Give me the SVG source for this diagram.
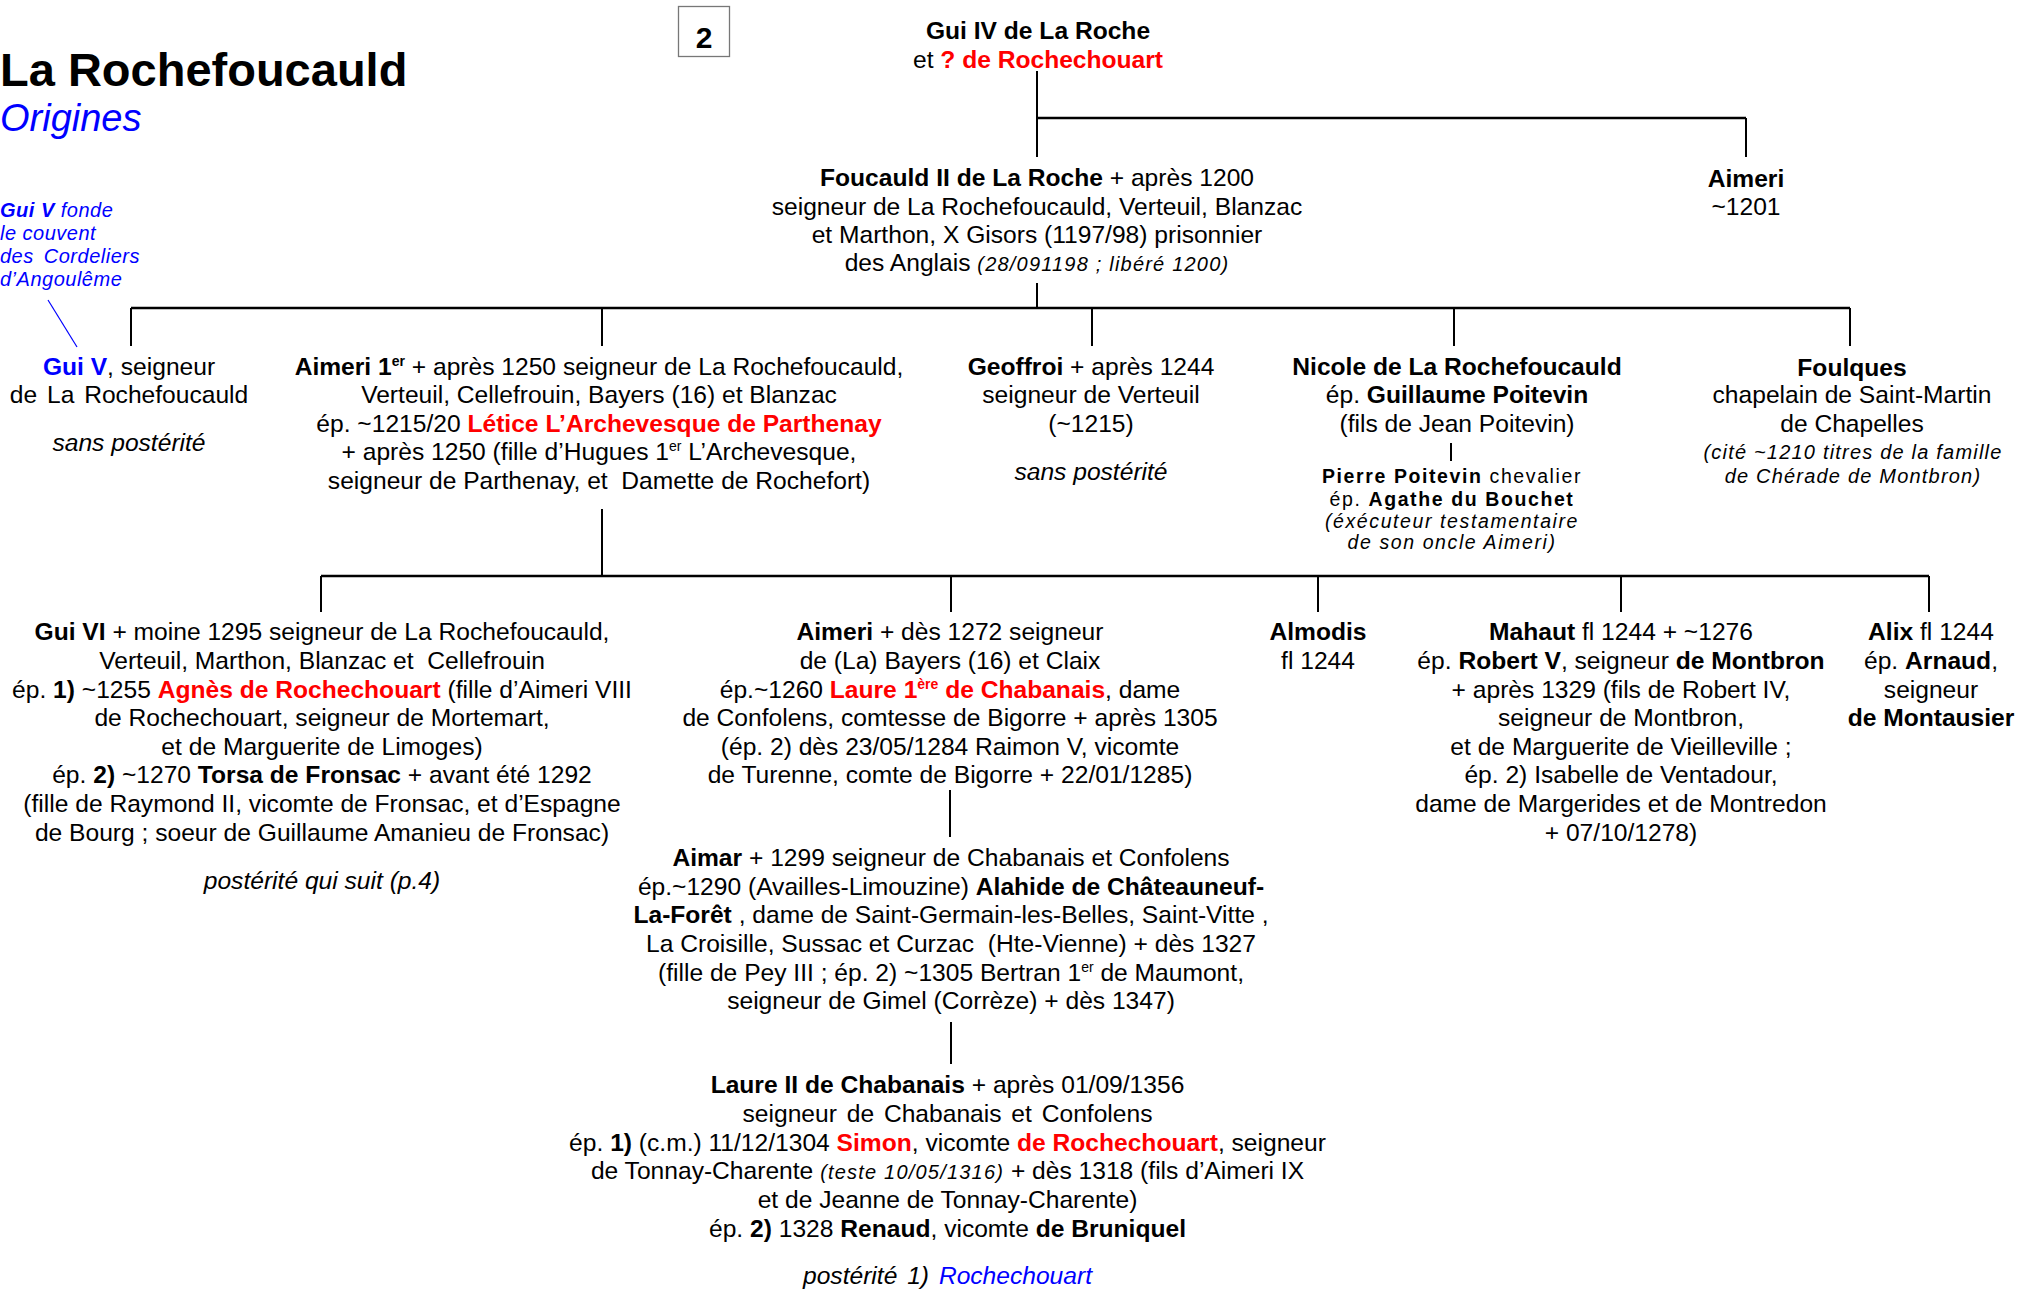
<svg xmlns="http://www.w3.org/2000/svg" width="2017" height="1290" viewBox="0 0 2017 1290">
<style>
text{font-family:"Liberation Sans",Arial,sans-serif;font-size:24.6px;fill:#000;text-anchor:middle}
.b{font-weight:bold}
.i{font-style:italic}
.r{fill:#ff0000;font-weight:bold}
.bl{fill:#0000ff}
.s{font-size:20px;letter-spacing:1.2px}
.p{font-size:19.5px;letter-spacing:1.6px}
.sup{font-size:14px}
.bar{stroke:#000;stroke-width:2.6;fill:none}
.ln{stroke:#000;stroke-width:2;fill:none}
</style>
<rect width="2017" height="1290" fill="#fff"/>

<g id="title">
<text x="0" y="86" style="text-anchor:start;font-size:47px;font-weight:bold">La Rochefoucauld</text>
<text x="0" y="131" class="i bl" style="text-anchor:start;font-size:38px">Origines</text>
</g>

<g id="page-number">
<rect x="678.5" y="6.5" width="51" height="50" fill="#fff" stroke="#777" stroke-width="1.3"/>
<text x="704" y="48" class="b" style="font-size:30px">2</text>
</g>

<g id="note-guiV">
<text x="0" y="217" class="i bl" style="text-anchor:start;font-size:20px;letter-spacing:0.5px"><tspan class="b">Gui V</tspan> fonde</text>
<text x="0" y="240" class="i bl" style="text-anchor:start;font-size:20px;letter-spacing:0.5px">le couvent</text>
<text x="0" y="263" class="i bl" style="text-anchor:start;font-size:20px;letter-spacing:0.5px;word-spacing:4px">des Cordeliers</text>
<text x="0" y="286" class="i bl" style="text-anchor:start;font-size:20px;letter-spacing:0.5px">d’Angoulême</text>
</g>

<g id="connectors">
<line class="ln" x1="1037" y1="71" x2="1037" y2="157"/>
<line class="bar" x1="1037" y1="118" x2="1746" y2="118"/>
<line class="ln" x1="1746" y1="118" x2="1746" y2="157"/>
<line class="ln" x1="1037" y1="283" x2="1037" y2="308"/>
<line class="bar" x1="131" y1="308" x2="1850" y2="308"/>
<line class="ln" x1="131" y1="308" x2="131" y2="346"/>
<line class="ln" x1="602" y1="308" x2="602" y2="346"/>
<line class="ln" x1="1092" y1="308" x2="1092" y2="346"/>
<line class="ln" x1="1454" y1="308" x2="1454" y2="346"/>
<line class="ln" x1="1850" y1="308" x2="1850" y2="346"/>
<line class="ln" x1="1451" y1="443" x2="1451" y2="461"/>
<line class="ln" x1="602" y1="509" x2="602" y2="576"/>
<line class="bar" x1="321" y1="576" x2="1929" y2="576"/>
<line class="ln" x1="321" y1="576" x2="321" y2="612"/>
<line class="ln" x1="951" y1="576" x2="951" y2="612"/>
<line class="ln" x1="1318" y1="576" x2="1318" y2="612"/>
<line class="ln" x1="1621" y1="576" x2="1621" y2="612"/>
<line class="ln" x1="1929" y1="576" x2="1929" y2="612"/>
<line class="ln" x1="950" y1="790" x2="950" y2="837"/>
<line class="ln" x1="951" y1="1022" x2="951" y2="1064"/>
<line x1="48" y1="300" x2="77" y2="347" stroke="#0000ff" stroke-width="1.2"/>
</g>

<g id="gui-iv">
<text x="1038" y="39" class="b">Gui IV de La Roche</text>
<text x="1038" y="68">et <tspan class="r">? de Rochechouart</tspan></text>
</g>

<g id="foucauld-ii">
<text x="1037" y="186"><tspan class="b">Foucauld II de La Roche</tspan> + après 1200</text>
<text x="1037" y="214.5">seigneur de La Rochefoucauld, Verteuil, Blanzac</text>
<text x="1037" y="243">et Marthon, X Gisors (1197/98) prisonnier</text>
<text x="1037" y="271">des Anglais <tspan class="i s">(28/091198 ; libéré 1200)</tspan></text>
</g>

<g id="aimeri-1201">
<text x="1746" y="187" class="b">Aimeri</text>
<text x="1746" y="215">~1201</text>
</g>

<g id="gui-v">
<text x="129" y="375"><tspan class="b bl">Gui V</tspan>, seigneur</text>
<text x="129" y="403" style="word-spacing:3px">de La Rochefoucauld</text>
<text x="129" y="451" class="i">sans postérité</text>
</g>

<g id="aimeri-1er">
<text x="599" y="375"><tspan class="b">Aimeri 1</tspan><tspan class="b sup" dy="-9">er</tspan><tspan dy="9"> + après 1250 seigneur de La Rochefoucauld,</tspan></text>
<text x="599" y="403">Verteuil, Cellefrouin, Bayers (16) et Blanzac</text>
<text x="599" y="431.5">ép. ~1215/20 <tspan class="r">Létice L’Archevesque de Parthenay</tspan></text>
<text x="599" y="460">+ après 1250 (fille d’Hugues 1<tspan class="sup" dy="-9">er</tspan><tspan dy="9"> L’Archevesque,</tspan></text>
<text x="599" y="489" xml:space="preserve">seigneur de Parthenay, et  Damette de Rochefort)</text>
</g>

<g id="geoffroi">
<text x="1091" y="375"><tspan class="b">Geoffroi</tspan> + après 1244</text>
<text x="1091" y="403">seigneur de Verteuil</text>
<text x="1091" y="431.5">(~1215)</text>
<text x="1091" y="480" class="i">sans postérité</text>
</g>

<g id="nicole">
<text x="1457" y="375" class="b">Nicole de La Rochefoucauld</text>
<text x="1457" y="403">ép. <tspan class="b">Guillaume Poitevin</tspan></text>
<text x="1457" y="431.5">(fils de Jean Poitevin)</text>
</g>

<g id="pierre-poitevin">
<text x="1452" y="483" class="p"><tspan class="b">Pierre Poitevin</tspan> chevalier</text>
<text x="1452" y="506" class="p">ép. <tspan class="b">Agathe du Bouchet</tspan></text>
<text x="1452" y="528" class="p i">(éxécuteur testamentaire</text>
<text x="1452" y="549" class="p i">de son oncle Aimeri)</text>
</g>

<g id="foulques">
<text x="1852" y="376" class="b">Foulques</text>
<text x="1852" y="403">chapelain de Saint-Martin</text>
<text x="1852" y="431.5">de Chapelles</text>
<text x="1853" y="459" class="i s">(cité ~1210 titres de la famille</text>
<text x="1853" y="483" class="i s">de Chérade de Montbron)</text>
</g>

<g id="gui-vi">
<text x="322" y="640"><tspan class="b">Gui VI</tspan> + moine 1295 seigneur de La Rochefoucauld,</text>
<text x="322" y="668.7" xml:space="preserve">Verteuil, Marthon, Blanzac et  Cellefrouin</text>
<text x="322" y="697.5">ép. <tspan class="b">1)</tspan> ~1255 <tspan class="r">Agnès de Rochechouart</tspan> (fille d’Aimeri VIII</text>
<text x="322" y="726">de Rochechouart, seigneur de Mortemart,</text>
<text x="322" y="754.5">et de Marguerite de Limoges)</text>
<text x="322" y="783">ép. <tspan class="b">2)</tspan> ~1270 <tspan class="b">Torsa de Fronsac</tspan> + avant été 1292</text>
<text x="322" y="812">(fille de Raymond II, vicomte de Fronsac, et d’Espagne</text>
<text x="322" y="840.5">de Bourg ; soeur de Guillaume Amanieu de Fronsac)</text>
<text x="322" y="889" class="i">postérité qui suit (p.4)</text>
</g>

<g id="aimeri-1272">
<text x="950" y="640"><tspan class="b">Aimeri</tspan> + dès 1272 seigneur</text>
<text x="950" y="668.7">de (La) Bayers (16) et Claix</text>
<text x="950" y="697.5">ép.~1260 <tspan class="r">Laure 1</tspan><tspan class="r sup" dy="-9">ère</tspan><tspan class="r" dy="9"> de Chabanais</tspan>, dame</text>
<text x="950" y="726">de Confolens, comtesse de Bigorre + après 1305</text>
<text x="950" y="754.5">(ép. 2) dès 23/05/1284 Raimon V, vicomte</text>
<text x="950" y="783">de Turenne, comte de Bigorre + 22/01/1285)</text>
</g>

<g id="aimar">
<text x="951" y="866"><tspan class="b">Aimar</tspan> + 1299 seigneur de Chabanais et Confolens</text>
<text x="951" y="894.6">ép.~1290 (Availles-Limouzine) <tspan class="b">Alahide de Châteauneuf-</tspan></text>
<text x="951" y="923"><tspan class="b">La-Forêt</tspan> , dame de Saint-Germain-les-Belles, Saint-Vitte ,</text>
<text x="951" y="952" xml:space="preserve">La Croisille, Sussac et Curzac  (Hte-Vienne) + dès 1327</text>
<text x="951" y="981">(fille de Pey III ; ép. 2) ~1305 Bertran 1<tspan class="sup" dy="-9">er</tspan><tspan dy="9"> de Maumont,</tspan></text>
<text x="951" y="1009">seigneur de Gimel (Corrèze) + dès 1347)</text>
</g>

<g id="laure-ii">
<text x="947.5" y="1093"><tspan class="b">Laure II de Chabanais</tspan> + après 01/09/1356</text>
<text x="947.5" y="1121.5" style="word-spacing:3px">seigneur de Chabanais et Confolens</text>
<text x="947.5" y="1150.5">ép. <tspan class="b">1)</tspan> (c.m.) 11/12/1304 <tspan class="r">Simon</tspan>, vicomte <tspan class="r">de Rochechouart</tspan>, seigneur</text>
<text x="947.5" y="1179">de Tonnay-Charente <tspan class="i s">(teste 10/05/1316)</tspan> + dès 1318 (fils d’Aimeri IX</text>
<text x="947.5" y="1207.5">et de Jeanne de Tonnay-Charente)</text>
<text x="947.5" y="1236.5">ép. <tspan class="b">2)</tspan> 1328 <tspan class="b">Renaud</tspan>, vicomte <tspan class="b">de Bruniquel</tspan></text>
<text x="947.5" y="1284" class="i" style="word-spacing:3px">postérité 1) <tspan class="bl">Rochechouart</tspan></text>
</g>

<g id="almodis">
<text x="1318" y="640" class="b">Almodis</text>
<text x="1318" y="668.7">fl 1244</text>
</g>

<g id="mahaut">
<text x="1621" y="640"><tspan class="b">Mahaut</tspan> fl 1244 + ~1276</text>
<text x="1621" y="668.7">ép. <tspan class="b">Robert V</tspan>, seigneur <tspan class="b">de Montbron</tspan></text>
<text x="1621" y="697.5">+ après 1329 (fils de Robert IV,</text>
<text x="1621" y="726">seigneur de Montbron,</text>
<text x="1621" y="754.5">et de Marguerite de Vieilleville ;</text>
<text x="1621" y="783">ép. 2) Isabelle de Ventadour,</text>
<text x="1621" y="812">dame de Margerides et de Montredon</text>
<text x="1621" y="840.5">+ 07/10/1278)</text>
</g>

<g id="alix">
<text x="1931" y="640"><tspan class="b">Alix</tspan> fl 1244</text>
<text x="1931" y="668.7">ép. <tspan class="b">Arnaud</tspan>,</text>
<text x="1931" y="697.5">seigneur</text>
<text x="1931" y="726" class="b">de Montausier</text>
</g>
</svg>
